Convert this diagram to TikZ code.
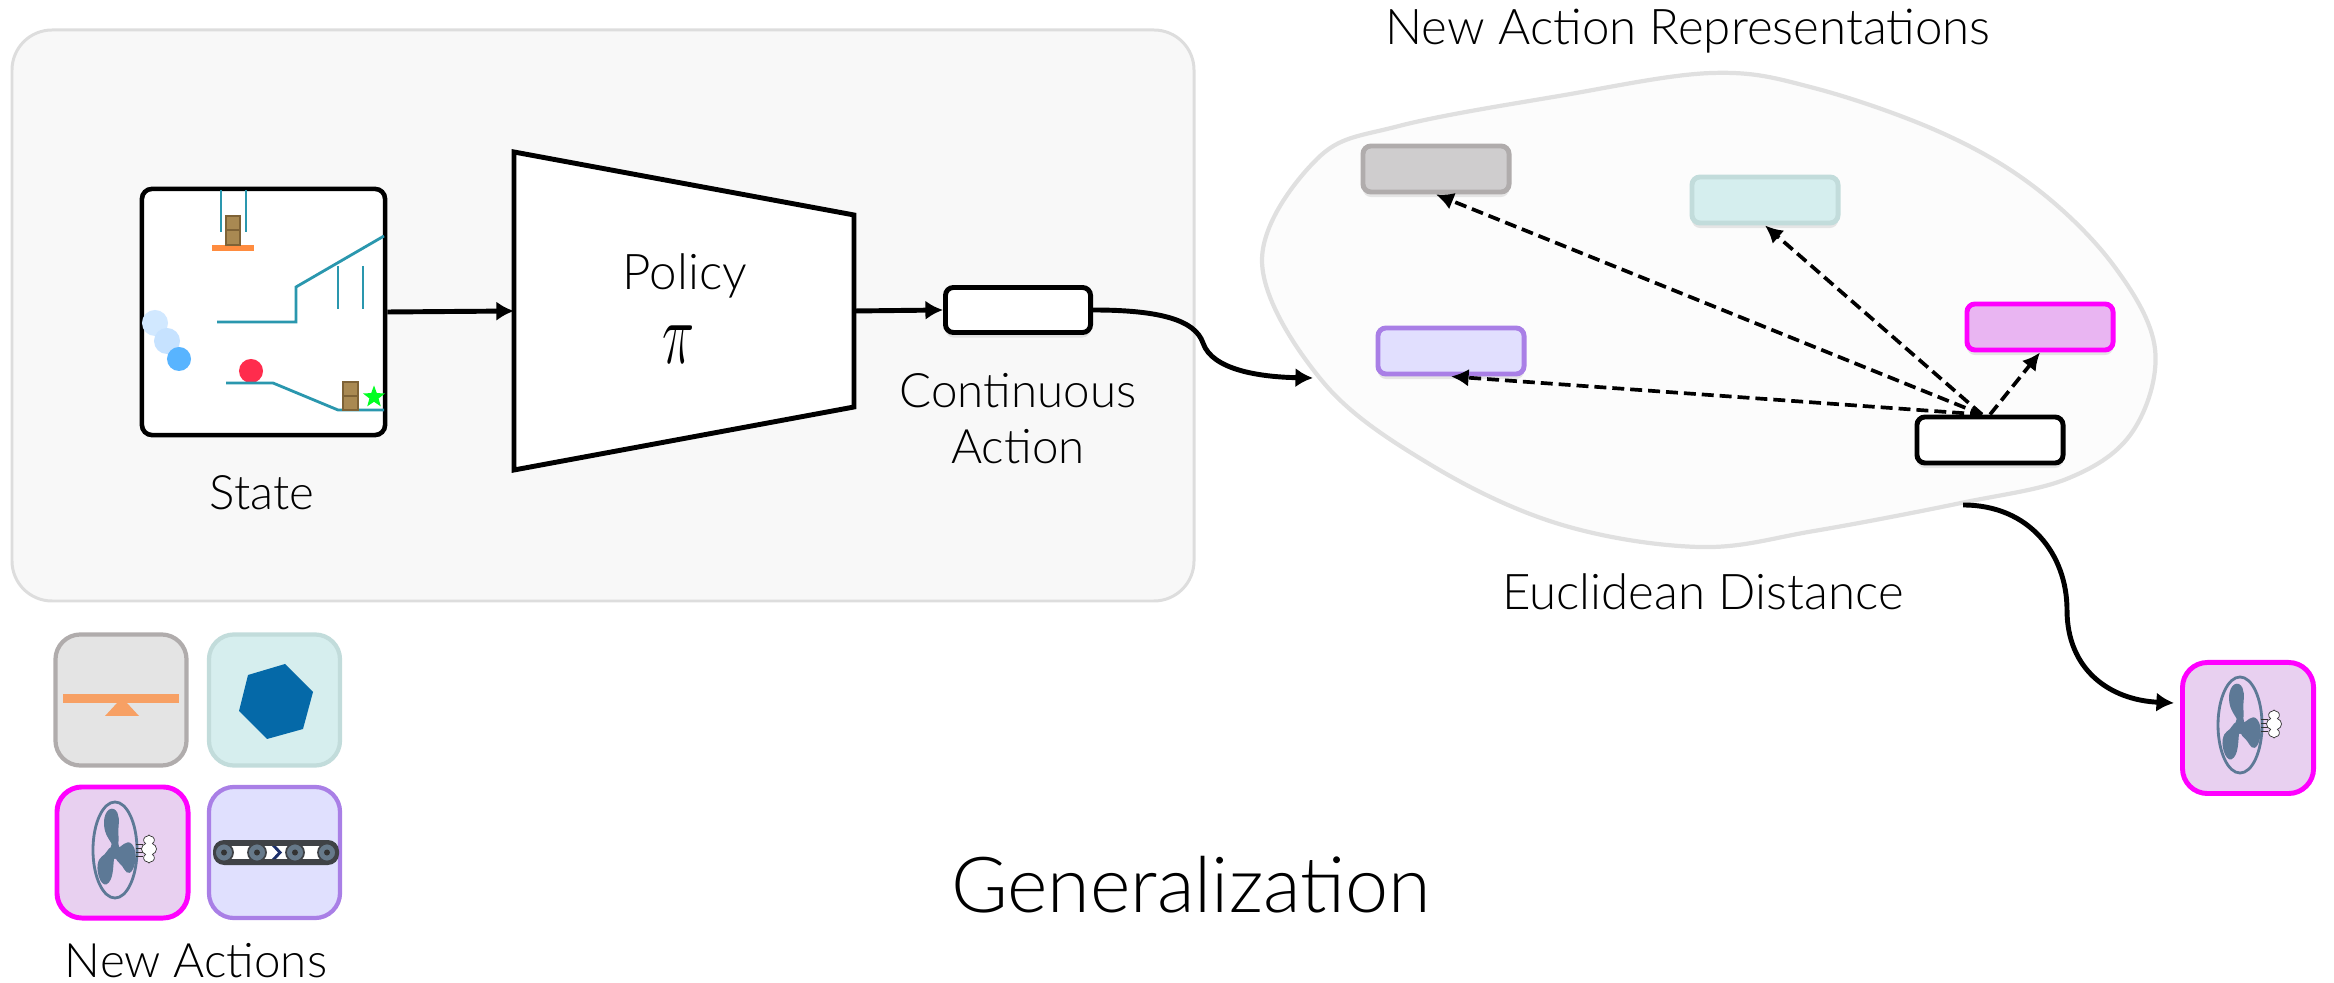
\documentclass[tikz,border=0pt]{standalone}
\usepackage{fontspec}
\setmainfont{Lato Light}
\usetikzlibrary{calc}
\usetikzlibrary{arrows.meta}
\usetikzlibrary{shadows}
\usetikzlibrary{shapes.geometric}
\usetikzlibrary{shapes.symbols}

\definecolor{panelfill}{HTML}{F8F8F8}
\definecolor{panelline}{HTML}{DDDDDD}
\definecolor{blobfill}{HTML}{FCFCFC}
\definecolor{blobline}{HTML}{E0E0E0}
\definecolor{greyfill}{HTML}{CFCDCE}
\definecolor{greyline}{HTML}{B0ACAC}
\definecolor{tealfill}{HTML}{D5EEEE}
\definecolor{tealline}{HTML}{C2DCDB}
\definecolor{lavfill}{HTML}{E1DFFE}
\definecolor{lavline}{HTML}{A97FE6}
\definecolor{magfill}{HTML}{E9B5F2}
\definecolor{magline}{HTML}{FF00FF}
\definecolor{greytile}{HTML}{E4E4E4}
\definecolor{tealtile}{HTML}{D6EEEE}
\definecolor{magtile}{HTML}{E8D0F0}
\definecolor{lavtile}{HTML}{E0E0FE}
\definecolor{simteal}{HTML}{2A97AE}
\definecolor{simorange}{HTML}{FF8C3F}
\definecolor{cratebrown}{HTML}{A98952}
\definecolor{crateedge}{HTML}{7E6236}
\definecolor{ballpale}{HTML}{C6E2FF}
\definecolor{ballblue}{HTML}{58B4FF}
\definecolor{ballred}{HTML}{FF2C4D}
\definecolor{goalgreen}{HTML}{00FF22}
\definecolor{seesaw}{HTML}{F7A064}
\definecolor{hexblue}{HTML}{0569A8}
\definecolor{fanblue}{HTML}{5D7996}
\definecolor{beltdark}{HTML}{3F4246}
\definecolor{wheelgrey}{HTML}{66798A}
\definecolor{chevron}{HTML}{1B2F6B}

\begin{document}
\begin{tikzpicture}[x=0.01cm, y=-0.01cm,
    lbl/.style={font=\fontsize{13.5}{16}\selectfont, inner sep=0, anchor=base},
    emb/.style={draw, rounded corners=0.08cm, minimum width=1.46cm, minimum height=0.46cm,
        line width=1.4pt, inner sep=0,
        drop shadow={shadow xshift=0cm, shadow yshift=-0.05cm, opacity=0.18}},
    tile/.style={draw, rounded corners=0.25cm, minimum size=1.31cm, line width=1.2pt, inner sep=0},
    flow/.style={line width=1.4pt, -{Latex[length=5pt,width=5.5pt]}},
    near/.style={line width=1.05pt, dash pattern=on 3.4pt off 1.7pt, -{Latex[length=5pt,width=5pt]}},
    wall/.style={simteal, line width=0.8pt},
    crate/.style={fill=cratebrown, draw=crateedge, line width=0.3pt},
    fan/.pic={
        \draw[fanblue, line width=0.8pt] (0,0) ellipse (0.22cm and 0.48cm);
        \begin{scope}[xscale=0.5]
            \foreach \a in {0,120,240} {
                \fill[fanblue, rotate=\a] (-3,-2) .. controls (-8,-10) and (-22,-14) .. (-22,-27)
                    .. controls (-22,-42) and (-2,-45) .. (5,-37)
                    .. controls (11,-30) and (5,-22) .. (7,-14)
                    .. controls (8,-8) and (6,-3) .. (3,0) -- cycle;
            }
            \fill[fanblue] (0,0) circle (0.09cm);
        \end{scope}
        \foreach \dy in {-6,-2,2,6}
            \draw[black!80, line width=0.2pt] (21,\dy) -- (28,\dy);
        \node[cloud, cloud puffs=8, draw=black!80, line width=0.2pt, fill=white, inner sep=0,
            minimum width=0.15cm, minimum height=0.28cm] at (34,-1) {};
    },
]
\useasboundingbox (0,0) rectangle (2334,983);

% policy side
\draw[panelline, fill=panelfill, line width=0.85pt, rounded corners=0.4cm] (12,30) rectangle (1194,601);

\node[draw, fill=white, line width=1.3pt, rounded corners=0.1cm, minimum width=2.43cm,
    minimum height=2.46cm, inner sep=0] (state) at (263.5,312) {};
% the little physics scene
\draw[wall] (221,190) -- (221,232);
\draw[wall] (246,190) -- (246,232);
\fill[simorange] (212,245) rectangle (254,251);
\draw[crate] (226,216) rectangle (240,230);
\draw[crate] (226,230) rectangle (240,245);
\draw[wall] (217,322) -- (296,322) -- (296,287) -- (384,236);
\draw[wall] (338,266) -- (338,309);
\draw[wall] (363,266) -- (363,309);
\fill[ballpale!80!white] (155,323) circle (0.13cm);
\fill[ballpale] (167,341) circle (0.13cm);
\fill[ballblue] (179,359) circle (0.12cm);
\fill[ballred] (251,371) circle (0.12cm);
\draw[wall] (226,383) -- (273,383) -- (338,410) -- (384,410);
\draw[crate] (343,382) rectangle (358,396);
\draw[crate] (343,396) rectangle (358,410);
\node[star, star points=5, star point ratio=2.4, fill=goalgreen, inner sep=0,
    minimum size=0.23cm] at (374,397) {};
\node[lbl] (statelbl) at (262,510) {State};

\draw[line width=1.4pt, fill=white] (514,152) -- (854,215) -- (854,407) -- (514,470) -- cycle;
\coordinate (polin) at (514,311);
\coordinate (polout) at (854,311);
\node[lbl, font=\fontsize{14}{16}\selectfont] (policy) at (685,290) {Policy};
\node[xscale=0.62, inner sep=0] (pi) at (679,345) {\fontsize{33}{33}\selectfont$\pi$};

\node[draw, fill=white, rounded corners=0.08cm, line width=1.4pt, minimum width=1.45cm,
    minimum height=0.45cm, inner sep=0,
    drop shadow={shadow xshift=0cm, shadow yshift=-0.05cm, opacity=0.18}] (contact) at (1018,310) {};
\node[lbl] (contlbl) at (1018,408) {Continuous};
\node[lbl] (actlbl) at (1018,464) {Action};

\draw[flow] (state.east) -- (polin);
\draw[flow] (polout) -- (contact.west);

% embedding space
\draw[blobline, fill=blobfill, line width=1.2pt] plot[smooth cycle, tension=0.6] coordinates {
    (1262,262) (1317,159) (1399,126) (1559,96) (1712,73) (1814,88) (1942,133) (2037,189)
    (2114,266) (2155,349) (2133,431) (2069,478) (1961,503) (1814,531) (1699,547)
    (1559,524) (1431,465) (1323,382)};
\node[lbl, font=\fontsize{14}{16}\selectfont] (spacelbl) at (1688,45) {New Action Representations};
\node[lbl, font=\fontsize{14}{16}\selectfont] (distlbl) at (1703,610) {Euclidean Distance};

\node[emb, draw=greyline, fill=greyfill] (seesawemb) at (1436,169) {};
\node[emb, draw=tealline, fill=tealfill] (hexemb) at (1765,200) {};
\node[emb, draw=lavline, fill=lavfill] (beltemb) at (1451,351) {};
\node[emb, draw=magline, fill=magfill] (fanemb) at (2040,327) {};
\node[emb, draw=black, fill=white] (query) at (1990,440) {};
\coordinate (hub) at ($(query.north)+(-8,0)$);

\draw[near] (hub) -- (seesawemb.south);
\draw[near] (hub) -- (hexemb.south);
\draw[near] (hub) -- (beltemb.south);
\draw[near] (query.north) -- (fanemb.south);

\coordinate (entry) at (1313,378);
\draw[flow] (contact.east) .. controls (1160,310) and (1195,320) .. (1203,343)
    .. controls (1212,370) and (1260,377) .. (entry);

% chosen action
\node[tile, draw=magline, fill=magtile, line width=1.4pt] (pick) at (2248,728) {};
\pic at (2240,725) {fan};
\coordinate (exit) at (1963,505);
\draw[flow] (exit) .. controls (2030,505) and (2067,555) .. (2067,610)
    .. controls (2067,670) and (2110,700) .. ($(pick.west)+(-6,-25)$);

% new action tiles
\node[tile, draw=greyline, fill=greytile] (seesawtile) at (121,700) {};
\fill[seesaw] (63,694) rectangle (179,703);
\fill[seesaw] (117,703) -- (127,703) -- (139,716) -- (105,716) -- cycle;

\node[tile, draw=tealline, fill=tealtile] (hextile) at (274.5,700) {};
\fill[hexblue] (248,675) -- (285,664) -- (313,692) -- (303,729) -- (267,739) -- (239,711) -- cycle;

\node[tile, draw=magline, fill=magtile, line width=1.4pt] (fantile) at (122.5,852.5) {};
\pic at (115,850) {fan};

\node[tile, draw=lavline, fill=lavtile] (belttile) at (274.5,852.5) {};
\fill[beltdark] (213,840) [rounded corners=0.11cm] rectangle (339,865);
\fill[white] (225,846) rectangle (327,859);
\foreach \wx in {224,257,295,327} {
    \filldraw[fill=wheelgrey, draw=beltdark, line width=0.5pt] (\wx,852.5) circle (0.09cm);
    \fill[black!80] (\wx,852.5) circle (0.03cm);
}
\fill[chevron] (272,846) -- (276,846) -- (282,852.5) -- (276,859) -- (272,859) -- (278,852.5) -- cycle;
\node[lbl] (newlbl) at (196,977) {New Actions};

\node[lbl, font=\fontsize{22}{24}\selectfont] (title) at (1191,912) {Generalization};

\end{tikzpicture}
\end{document}
